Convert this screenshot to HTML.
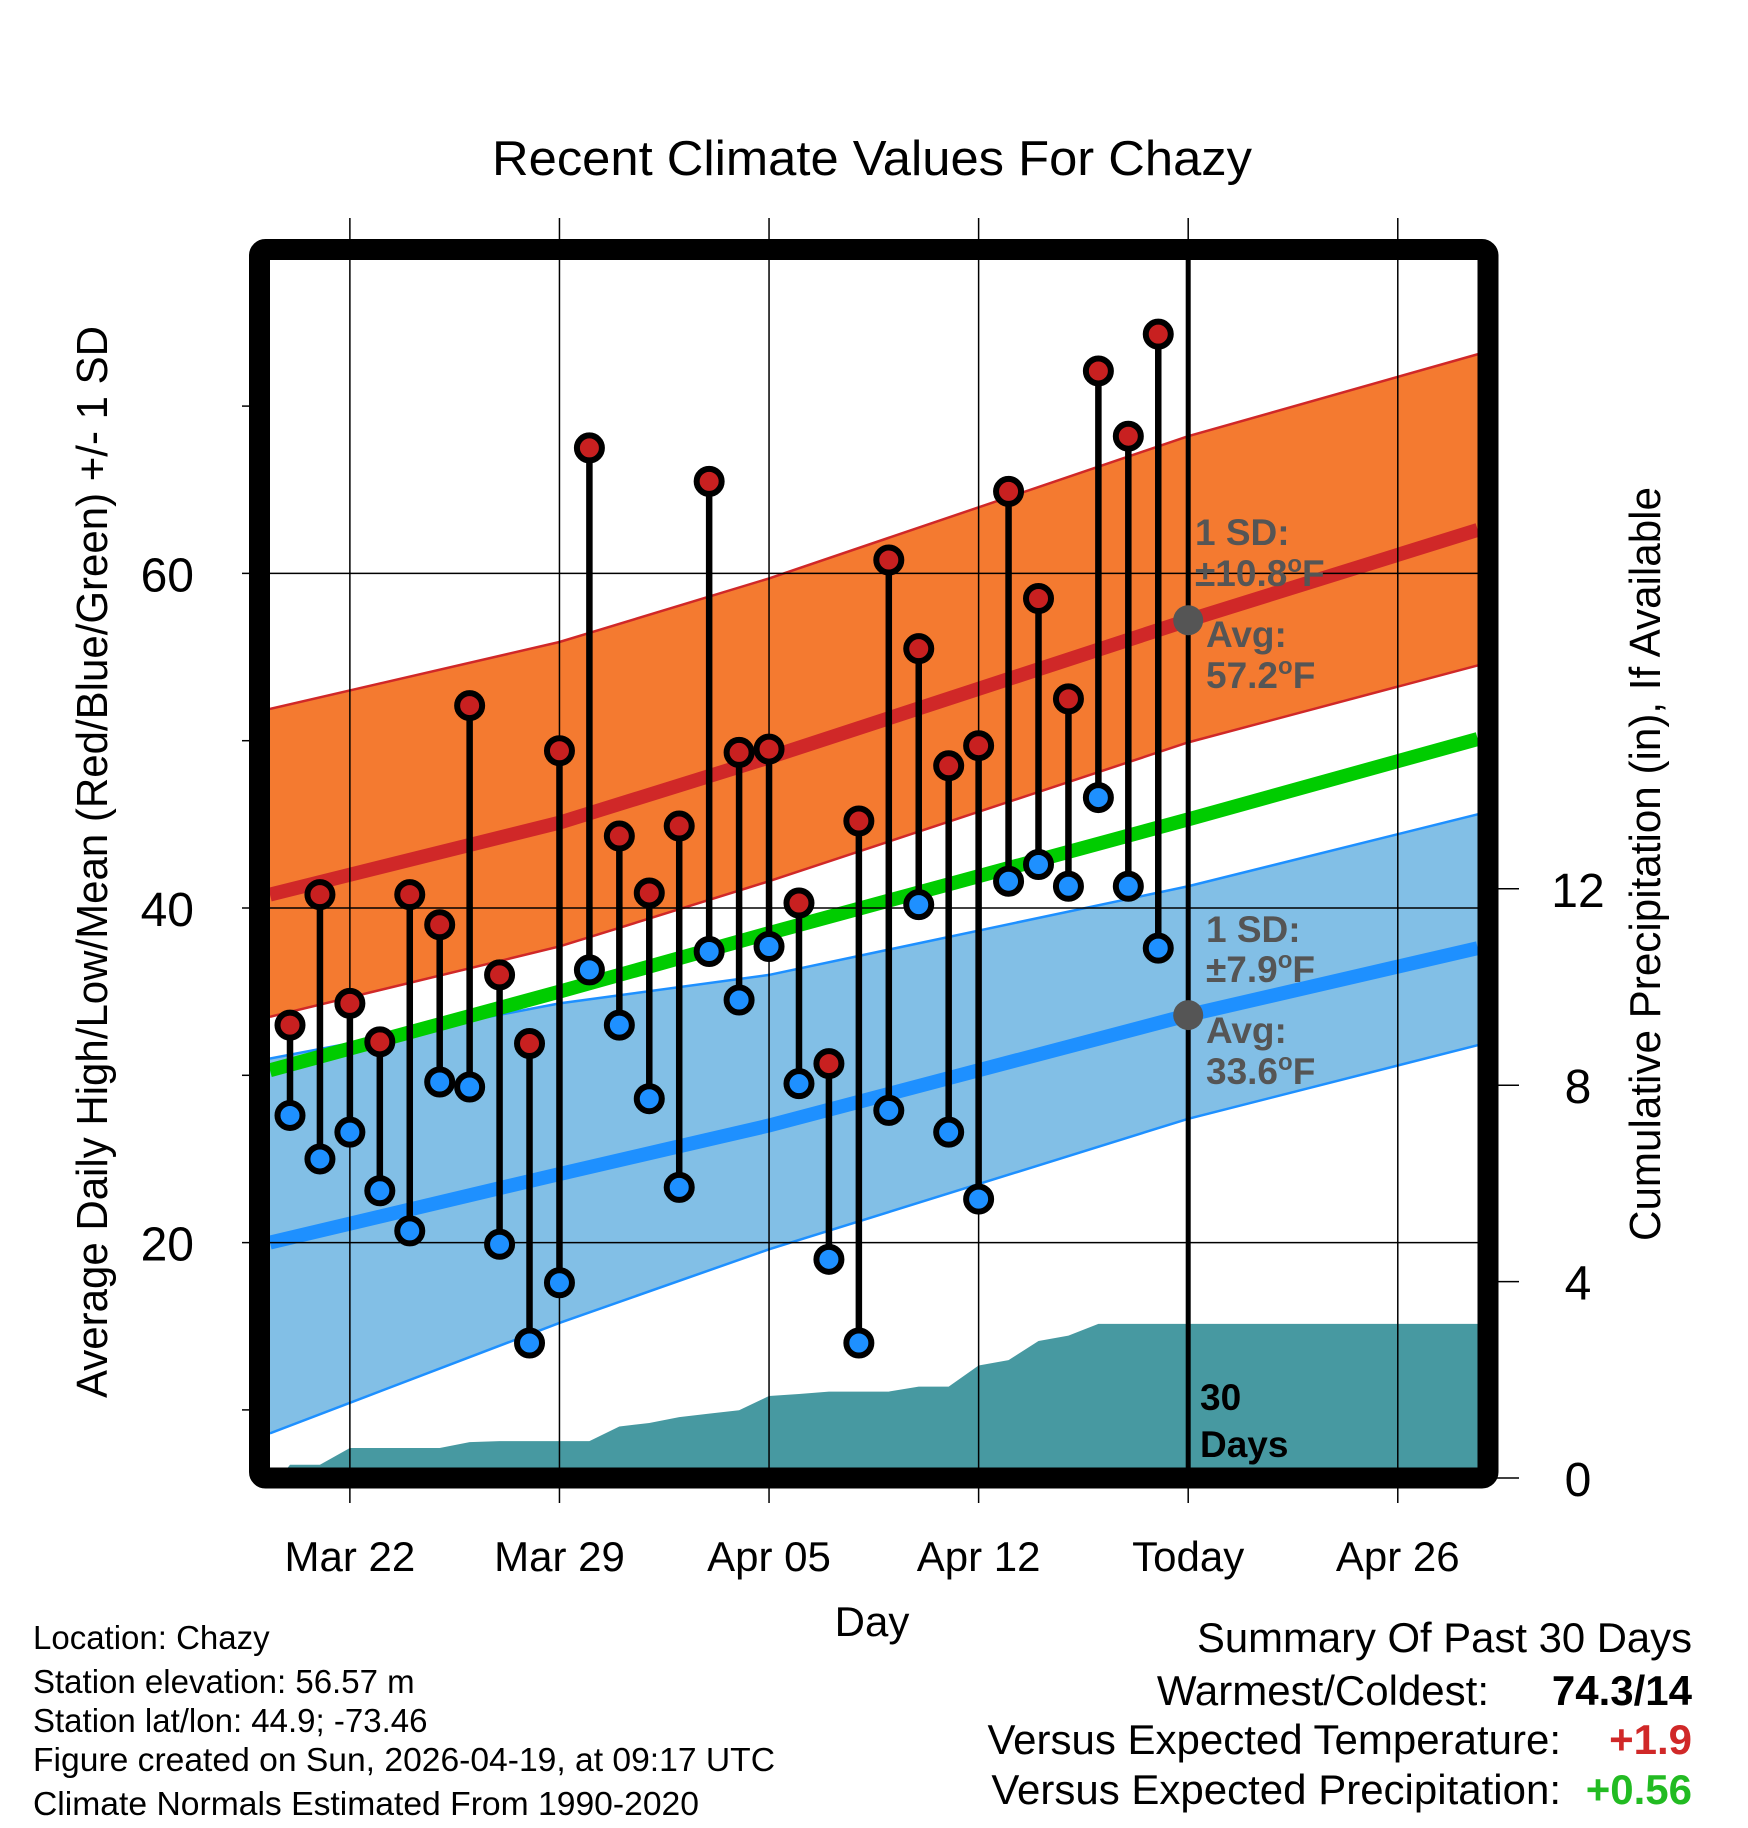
<!DOCTYPE html>
<html><head><meta charset="utf-8"><style>
html,body{margin:0;padding:0;background:#fff;}
svg{display:block;font-family:"Liberation Sans",Arial,sans-serif;}
</style></head><body>
<svg id="chart" width="1748" height="1828" viewBox="0 0 1748 1828"></svg>
<script>
const days = ["Mar 20","Mar 21","Mar 22","Mar 23","Mar 24","Mar 25","Mar 26","Mar 27","Mar 28","Mar 29","Mar 30","Mar 31","Apr 01","Apr 02","Apr 03","Apr 04","Apr 05","Apr 06","Apr 07","Apr 08","Apr 09","Apr 10","Apr 11","Apr 12","Apr 13","Apr 14","Apr 15","Apr 16","Apr 17","Apr 18"];
const highs = [33.0,40.8,34.3,32.0,40.8,39.0,52.1,36.0,31.9,49.4,67.5,44.3,40.9,44.9,65.5,49.3,49.5,40.3,30.7,45.2,60.8,55.5,48.5,49.7,64.9,58.5,52.5,72.1,68.2,74.3];
const lows = [27.6,25.0,26.6,23.1,20.7,29.6,29.3,19.9,14.0,17.6,36.3,33.0,28.6,23.3,37.4,34.5,37.7,29.5,19.0,14.0,27.9,40.2,26.6,22.6,41.6,42.6,41.3,46.6,41.3,37.6];
const precip = [0.27,0.27,0.61,0.61,0.61,0.61,0.73,0.75,0.75,0.75,0.75,1.05,1.12,1.24,1.31,1.38,1.67,1.71,1.76,1.76,1.76,1.86,1.86,2.29,2.4,2.79,2.9,3.14,3.14,3.14];
const normDays = [-0.67, 9, 16, 30, 39.67];
const normHighMean = [40.8, 45.1, 49.0, 57.2, 62.6];
const normHighUpper = [51.9, 55.9, 59.7, 68.2, 73.1];
const normHighLower = [33.5, 37.7, 41.6, 49.9, 54.5];
const normMean = [30.3, 35.0, 38.5, 45.3, 50.1];
const normLowMean = [20.0, 24.1, 27.0, 33.6, 37.6];
const normLowUpper = [31.0, 34.3, 36.0, 41.3, 45.6];
const normLowLower = [8.6, 15.2, 19.6, 27.4, 31.8];
const yTicks = [20,40,60];
const yMinor = [10,30,50,70];
const pTicks = [0,4,8,12];
const xTickDays = [2,9,16,23,30,37];
const xTickLabels = ["Mar 22","Mar 29","Apr 05","Apr 12","Today","Apr 26"];

const NS="http://www.w3.org/2000/svg";
const svg=document.getElementById('chart');
const X=d=>290+d*29.94;
const Y=t=>908-(t-40)*16.73;
const P=p=>1478-p*49.1;
const L=270,R=1478,T=260,B=1468;
function mk(tag,attrs,parent){const e=document.createElementNS(NS,tag);for(const k in attrs)e.setAttribute(k,attrs[k]);(parent||svg).appendChild(e);return e;}
function txt(s,attrs,parent){const e=mk('text',attrs,parent);e.textContent=s;return e;}

const defs=mk('defs',{});
const cp=mk('clipPath',{id:'plotclip'},defs);
mk('rect',{x:L,y:T,width:R-L,height:B-T},cp);
const plot=mk('g',{'clip-path':'url(#plotclip)'});



function line(arr){return normDays.map((d,i)=>X(d)+','+Y(arr[i])).join(' ');}
function band(up,lo){return line(up)+' '+normDays.map((d,i)=>X(d)+','+Y(lo[i])).reverse().join(' ');}

let e;
e=mk('polygon',{points:band(normLowUpper,normLowLower),fill:'#82bfe6'},plot);

mk('polyline',{points:line(normLowUpper),fill:'none',stroke:'#1e90ff','stroke-width':2.5},plot);
mk('polyline',{points:line(normLowLower),fill:'none',stroke:'#1e90ff','stroke-width':2.5},plot);
e=mk('polygon',{points:band(normHighUpper,normHighLower),fill:'#f47a30'},plot);

mk('polyline',{points:line(normHighUpper),fill:'none',stroke:'#d02828','stroke-width':2.5},plot);
mk('polyline',{points:line(normHighLower),fill:'none',stroke:'#d02828','stroke-width':2.5},plot);
e=mk('polyline',{points:line(normHighMean),fill:'none',stroke:'#d02828','stroke-width':14},plot);

e=mk('polyline',{points:line(normMean),fill:'none',stroke:'#00cc00','stroke-width':14},plot);

e=mk('polyline',{points:line(normLowMean),fill:'none',stroke:'#1e90ff','stroke-width':14},plot);


let pp=[X(-0.35)+','+P(0)];
precip.forEach((v,i)=>pp.push(X(i)+','+P(v)));
pp.push(R+','+P(precip[precip.length-1]));pp.push(R+','+P(0));
e=mk('polygon',{points:pp.join(' '),fill:'#4799a1'},plot);


yTicks.forEach(t=>{mk('line',{x1:242,x2:R,y1:Y(t),y2:Y(t),stroke:'#000','stroke-width':1.5});
 e=txt(String(t),{x:194,y:Y(t)+18,'font-size':48,'text-anchor':'end'});
 });
yMinor.forEach(t=>mk('line',{x1:242,x2:252,y1:Y(t),y2:Y(t),stroke:'#000','stroke-width':1.5}));
xTickDays.forEach((d,i)=>{mk('line',{x1:X(d),x2:X(d),y1:218,y2:1503,stroke:'#000','stroke-width':1.5});
 e=txt(xTickLabels[i],{x:X(d),y:1571,'font-size':42,'text-anchor':'middle'});
 });
pTicks.forEach(p=>{mk('line',{x1:1488,x2:1519,y1:P(p),y2:P(p),stroke:'#000','stroke-width':1.5});
 e=txt(String(p),{x:1578,y:P(p)+18,'font-size':48,'text-anchor':'middle'});
 });

e=mk('line',{x1:X(30),x2:X(30),y1:255,y2:1478,stroke:'#000','stroke-width':5});


highs.forEach((h,i)=>{
 e=mk('line',{x1:X(i),x2:X(i),y1:Y(h),y2:Y(lows[i]),stroke:'#000','stroke-width':6.5});
 
});
highs.forEach((h,i)=>{
 e=mk('circle',{cx:X(i),cy:Y(h),r:12.5,fill:'#c82020',stroke:'#000','stroke-width':6});
 
 e=mk('circle',{cx:X(i),cy:Y(lows[i]),r:12.5,fill:'#1e90ff',stroke:'#000','stroke-width':6});
 
});

e=mk('circle',{cx:X(30),cy:Y(normHighMean[3]),r:15,fill:'#555'});

e=mk('circle',{cx:X(30),cy:Y(normLowMean[3]),r:15,fill:'#555'});


e=mk('rect',{x:259.5,y:249.5,width:1228.5,height:1228.5,fill:'none',stroke:'#000','stroke-width':21,rx:6});

</script>
<svg width="1748" height="1828" style="position:absolute;left:0;top:0">
<g font-family="Liberation Sans, Arial, sans-serif">
<text x="872" y="175" font-size="49" text-anchor="middle" textLength="760" lengthAdjust="spacingAndGlyphs">Recent Climate Values For Chazy</text>
<text transform="translate(107,862) rotate(-90)" font-size="44" text-anchor="middle" textLength="1072" lengthAdjust="spacingAndGlyphs">Average Daily High/Low/Mean (Red/Blue/Green) +/- 1 SD</text>
<text transform="translate(1660,864) rotate(-90)" font-size="44" text-anchor="middle" textLength="754" lengthAdjust="spacingAndGlyphs">Cumulative Precipitation (in), If Available</text>
<text x="872" y="1636" font-size="42" text-anchor="middle">Day</text>
<g font-size="37" font-weight="bold" fill="#555">
<text x="1195" y="545">1 SD:</text>
<text x="1195" y="586">±10.8<tspan font-size="24" dy="-14">o</tspan><tspan dy="14">F</tspan></text>
<text x="1206" y="647">Avg:</text>
<text x="1206" y="688">57.2<tspan font-size="24" dy="-14">o</tspan><tspan dy="14">F</tspan></text>
</g>
<g font-size="37" font-weight="bold" fill="#555">
<text x="1206" y="942">1 SD:</text>
<text x="1206" y="982">±7.9<tspan font-size="24" dy="-14">o</tspan><tspan dy="14">F</tspan></text>
<text x="1206" y="1043">Avg:</text>
<text x="1206" y="1084">33.6<tspan font-size="24" dy="-14">o</tspan><tspan dy="14">F</tspan></text>
</g>
<g font-size="37" font-weight="bold" fill="#000">
<text x="1200" y="1410">30</text>
<text x="1200" y="1457">Days</text>
</g>
<g font-size="33" fill="#000">
<text x="33" y="1649">Location: Chazy</text>
<text x="33" y="1693">Station elevation: 56.57 m</text>
<text x="33" y="1732">Station lat/lon: 44.9; -73.46</text>
<text x="33" y="1771" textLength="742" lengthAdjust="spacingAndGlyphs">Figure created on Sun, 2026-04-19, at 09:17 UTC</text>
<text x="33" y="1815" textLength="666" lengthAdjust="spacingAndGlyphs">Climate Normals Estimated From 1990-2020</text>
</g>
<g font-size="42" text-anchor="end">
<text x="1692" y="1652" textLength="495" lengthAdjust="spacingAndGlyphs">Summary Of Past 30 Days</text>
<text x="1489" y="1705">Warmest/Coldest:</text>
<text x="1692" y="1705" font-weight="bold">74.3/14</text>
<text x="1561" y="1754">Versus Expected Temperature:</text>
<text x="1692" y="1754" font-weight="bold" fill="#d02828">+1.9</text>
<text x="1561" y="1804">Versus Expected Precipitation:</text>
<text x="1692" y="1804" font-weight="bold" fill="#22bb22">+0.56</text>
</g>
</g>
</svg>
</body></html>
